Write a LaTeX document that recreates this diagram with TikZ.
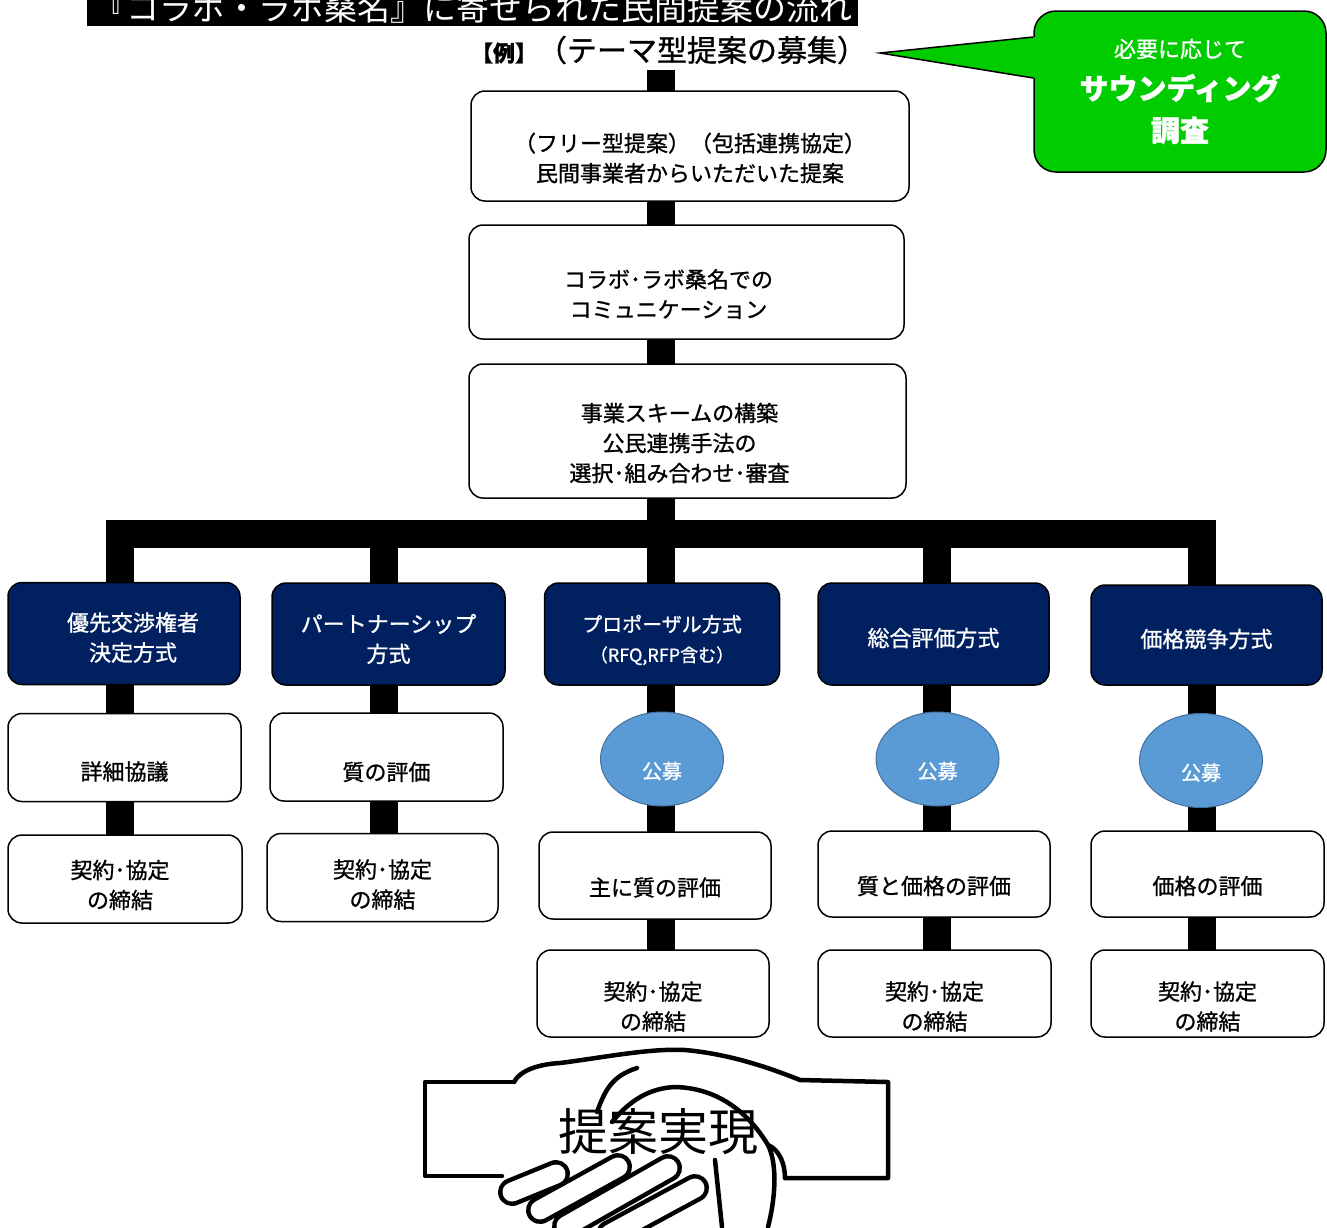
\documentclass[tikz,border=0pt]{standalone}
\usepackage{fontspec}
\setmainfont{Noto Sans CJK JP}[FakeBold=1]
\newfontfamily\thinjp{Noto Sans CJK JP}
\usetikzlibrary{shapes.geometric,backgrounds,calc}

\definecolor{navy}{RGB}{0,32,96}
\definecolor{pubblue}{RGB}{91,155,213}
\definecolor{pubedge}{RGB}{65,113,156}
\definecolor{callgreen}{RGB}{0,204,0}

\begin{document}
\begin{tikzpicture}[x=1pt,y=-1pt,
  wbox/.style={draw=black,fill=white,line width=1.5,rounded corners=14,inner sep=0},
  dbox/.style={draw=black,fill=navy,line width=1.5,rounded corners=14,inner sep=0},
  pub/.style={ellipse,draw=pubedge,fill=pubblue,line width=1,inner sep=0,minimum width=123,minimum height=94},
  wtxt/.style={align=center,text=black,font=\fontsize{22}{30}\selectfont},
  dtxt/.style={align=center,text=white,font=\fontsize{22}{30}\selectfont},
  trunk/.style={line width=28,line join=miter,black}]

\useasboundingbox (0,0) rectangle (1327,1227);
\clip (0,0) rectangle (1327,1227);

% title and theme
\node[fill=black,text=white,inner sep=0,minimum width=771,minimum height=36,
  font=\thinjp\fontsize{33}{33}\selectfont] (title) at (472.5,8) {『コラボ・ラボ桑名』に寄せられた民間提案の流れ};
\node[font=\fontsize{30}{30}\selectfont] (theme) at (669,50) {{\fontsize{22}{22}\selectfont\bfseries 【例】}（テーマ型提案の募集）};

% sounding callout
\node[draw=black,fill=callgreen,line width=1.5,rounded corners=22,minimum width=292,minimum height=161,
  text=white,align=center,font=\fontsize{29}{42}\selectfont] (sound) at (1180,91.5)
  {{\fontsize{22}{42}\selectfont 必要に応じて}\\\textbf{サウンディング}\\\textbf{調査}};
\coordinate (tip) at (880,53);
\fill[callgreen] ([xshift=3pt,yshift=54.5pt]sound.west) -- (tip) -- ([xshift=3pt,yshift=13.5pt]sound.west) -- cycle;
\draw[line width=1.5,line join=miter] ([yshift=54.5pt]sound.west) -- (tip) -- ([yshift=13.5pt]sound.west);

% main flow
\node[wbox,minimum width=438,minimum height=110,
  label={[wtxt,yshift=-12pt]center:{（フリー型提案）（包括連携協定）\\民間事業者からいただいた提案}}] (prop) at (690,146) {};
\node[wbox,minimum width=435,minimum height=114,
  label={[wtxt,xshift=-18pt,yshift=-12pt]center:{コラボ･ラボ桑名での\\コミュニケーション}}] (comm) at (686.5,282) {};
\node[wbox,minimum width=437,minimum height=134,
  label={[wtxt,xshift=-8pt,yshift=-12pt]center:{事業スキームの構築\\公民連携手法の\\選択･組み合わせ･審査}}] (scheme) at (687.5,431) {};

% methods
\node[dbox,minimum width=232,minimum height=102,
  label={[dtxt,xshift=9pt,yshift=-4pt]center:{優先交渉権者\\決定方式}}] (mA) at (124,633.5) {};
\node[dbox,minimum width=233,minimum height=102,
  label={[dtxt,yshift=-5pt]center:{パートナーシップ\\方式}}] (mB) at (388.5,634) {};
\node[dbox,minimum width=235,minimum height=102,
  label={[dtxt,yshift=-6pt,font=\fontsize{20}{30}\selectfont]center:{プロポーザル方式\\{\fontsize{18}{30}\selectfont（RFQ,RFP含む）}}}] (mC) at (662,634) {};
\node[dbox,minimum width=231,minimum height=102,
  label={[dtxt,yshift=-4pt]center:総合評価方式}] (mD) at (933.5,634) {};
\node[dbox,minimum width=231,minimum height=100,
  label={[dtxt,yshift=-4pt]center:価格競争方式}] (mE) at (1206.5,635) {};

% second row
\node[wbox,minimum width=233,minimum height=88,
  label={[wtxt,yshift=-14pt]center:詳細協議}] (detA) at (124.5,757.5) {};
\node[wbox,minimum width=233,minimum height=88,
  label={[wtxt,yshift=-15pt]center:質の評価}] (qualB) at (386.5,757) {};
\node[pub,label={[dtxt,yshift=-12pt,font=\fontsize{20}{20}\selectfont]center:公募}] (pubC) at (662,759) {};
\node[pub,label={[dtxt,yshift=-12pt,font=\fontsize{20}{20}\selectfont]center:公募}] (pubD) at (937.5,759) {};
\node[pub,label={[dtxt,yshift=-12pt,font=\fontsize{20}{20}\selectfont]center:公募}] (pubE) at (1201,760.5) {};

% third row
\node[wbox,minimum width=234,minimum height=88,
  label={[wtxt,xshift=-5pt,yshift=-6pt]center:{契約･協定\\の締結}}] (signA) at (125,879) {};
\node[wbox,minimum width=231,minimum height=88,
  label={[wtxt,yshift=-7pt]center:{契約･協定\\の締結}}] (signB) at (382.5,877.5) {};
\node[wbox,minimum width=232,minimum height=87,
  label={[wtxt,yshift=-12pt]center:主に質の評価}] (evalC) at (655,875.5) {};
\node[wbox,minimum width=232,minimum height=86,
  label={[wtxt,yshift=-12pt]center:質と価格の評価}] (evalD) at (934,874) {};
\node[wbox,minimum width=233,minimum height=86,
  label={[wtxt,yshift=-12pt]center:価格の評価}] (evalE) at (1207.5,874) {};

% fourth row
\node[wbox,minimum width=232,minimum height=87,
  label={[wtxt,yshift=-13pt]center:{契約･協定\\の締結}}] (signC) at (653,993.5) {};
\node[wbox,minimum width=233,minimum height=87,
  label={[wtxt,yshift=-13pt]center:{契約･協定\\の締結}}] (signD) at (934.5,993.5) {};
\node[wbox,minimum width=233,minimum height=87,
  label={[wtxt,yshift=-13pt]center:{契約･協定\\の締結}}] (signE) at (1207.5,993.5) {};

% trunk lines
\coordinate (cA) at (120,534);
\coordinate (cB) at (384,534);
\coordinate (cC) at (661,534);
\coordinate (cD) at (937,534);
\coordinate (cE) at (1202,534);
\begin{scope}[on background layer]
\draw[trunk] ([yshift=-2pt]theme.south -| cC) -- (cC |- signC);
\draw[trunk] (cA |- signA) |- (cC) -| (cE |- signE);
\draw[trunk] (cB) -- (cB |- signB);
\draw[trunk] (cD) -- (cD |- signD);
\end{scope}

% handshake
\begin{scope}[line width=4.5,line join=round,line cap=round]
\draw (514,1082) -- (425,1082) -- (425,1176) -- (502,1176);
\draw (800,1080) -- (888,1082) -- (888,1178) -- (785,1178);
\draw (514,1082) .. controls (520,1070) and (540,1064) .. (560,1063)
  .. controls (600,1058) and (650,1048) .. (685,1050)
  .. controls (730,1054) and (770,1068) .. (800,1080);
\draw (597,1112) .. controls (605,1090) and (612,1076) .. (637,1068);
\draw (612,1122) .. controls (630,1100) and (650,1088) .. (675,1087)
  .. controls (720,1088) and (750,1115) .. (768,1145)
  .. controls (778,1165) and (775,1200) .. (768,1227);
\draw (768,1145) .. controls (780,1150) and (785,1165) .. (785,1178);
\draw (715,1160) -- (722,1227);
\foreach \xa/\ya/\xb/\yb in {610/1234/695/1188, 566/1226/668/1168, 540/1210/618/1167, 512/1192/556/1174} {
  \draw[line width=28] (\xa,\ya) -- (\xb,\yb);
  \draw[white,line width=19] (\xa,\ya) -- (\xb,\yb);
}
\end{scope}
\node[font=\thinjp\fontsize{50}{50}\selectfont] (real) at (658,1132) {提案実現};

\end{tikzpicture}
\end{document}
